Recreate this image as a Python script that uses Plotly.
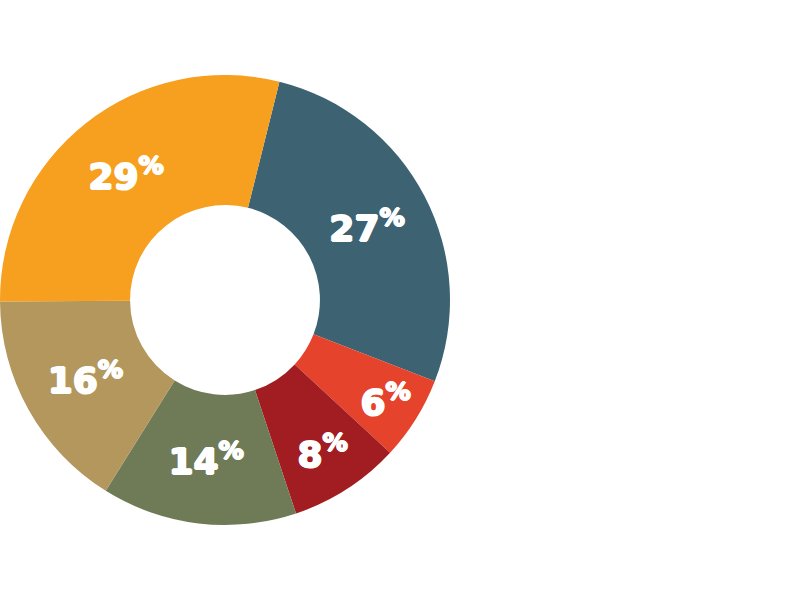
import plotly.graph_objects as go

categories = ["A", "B", "C", "D", "E", "F"]
values = [27, 6, 8, 14, 16, 29]
colors = ["#3D6373", "#E5432B", "#A11D22", "#6E7B56", "#B3975C", "#F79F1F"]

texts = [f"{v}<sup>%</sup>" for v in values]

fig = go.Figure(go.Pie(
    labels=categories,
    values=values,
    text=texts,
    textinfo="text",
    textposition="inside",
    insidetextorientation="horizontal",
    sort=False,
    direction="clockwise",
    rotation=14,
    hole=0.422,
    marker=dict(colors=colors, line=dict(width=0)),
    textfont=dict(family="DejaVu Sans", size=36, color="white", weight="bold",
                  shadow="1px 0px 0px white, -1px 0px 0px white, 0px 1px 0px white, 0px -1px 0px white"),
    domain=dict(x=[0, 450/800], y=[74/600, 526/600]),
    showlegend=False,
    hoverinfo="skip",
))

fig.update_layout(
    width=800, height=600,
    margin=dict(l=0, r=0, t=0, b=0),
    paper_bgcolor="white",
    plot_bgcolor="white",
    uniformtext=dict(minsize=36, mode="show"),
)

fig.write_html("out.html")
